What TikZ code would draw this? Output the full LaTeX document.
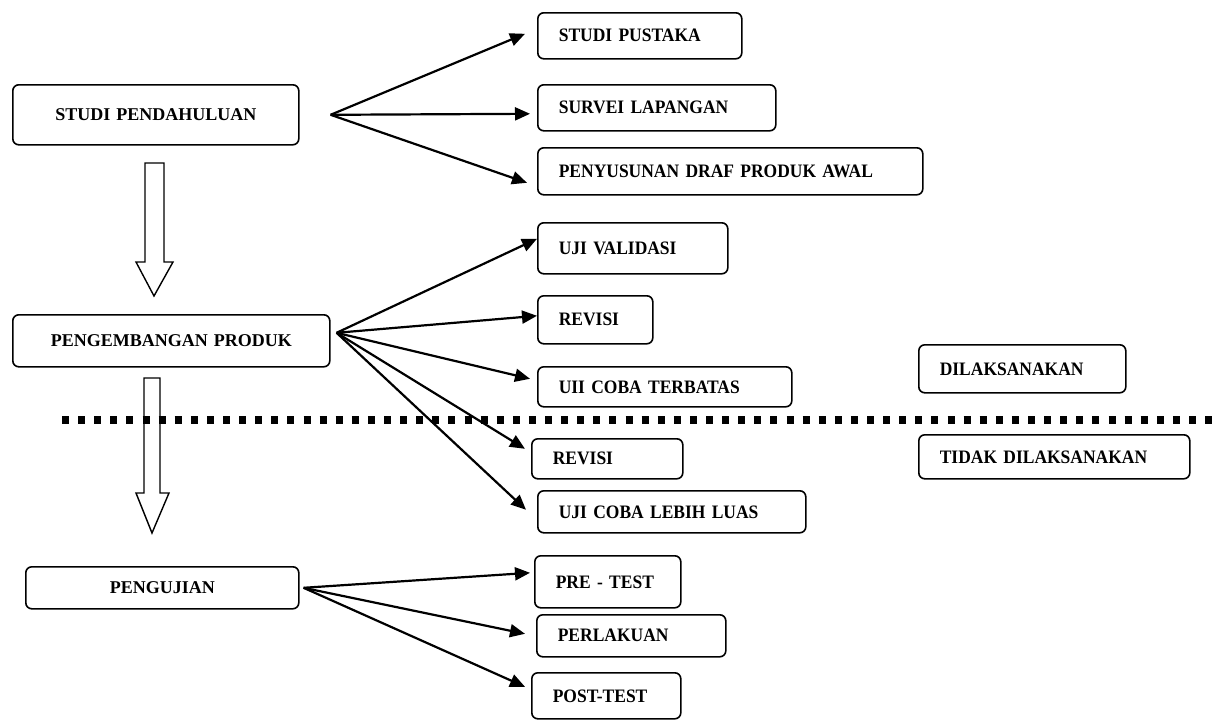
\documentclass[tikz,border=0pt]{standalone}
\usepackage{fontspec}
\setmainfont{Liberation Serif}
\newfontfamily\condserif[FakeStretch=0.92, WordSpace=0.7]{Liberation Serif}
\usetikzlibrary{arrows.meta}
\tikzset{
  lbox/.style={draw, line width=1.6pt, rounded corners=6pt, anchor=north west,
    inner xsep=0pt, inner ysep=0pt, align=center,
    font=\fontsize{18}{20}\selectfont\bfseries},
  rbox/.style={draw, line width=1.6pt, rounded corners=6pt, anchor=north west,
    inner xsep=21pt, inner ysep=0pt, align=left,
    font=\condserif\fontsize{19}{21}\selectfont\bfseries},
  arr/.style={line width=2.2pt, -{Triangle[length=15pt, width=13pt]}},
  hollow/.style={draw, line width=1.4pt, fill=white, line join=miter},
  sepline/.style={line width=7.3pt, dash pattern=on 7pt off 9.1pt}
}
\begin{document}
\begin{tikzpicture}[x=1pt, y=-1pt]
\useasboundingbox (0,0) rectangle (1216,720);

% left boxes
\node[lbox, minimum width=286pt, minimum height=60pt, text width=286pt] (sp) at (12,84) {STUDI PENDAHULUAN};
\node[lbox, minimum width=317pt, minimum height=52pt, text width=317pt] (pp) at (12,314) {PENGEMBANGAN PRODUK};
\node[lbox, minimum width=273pt, minimum height=42pt, text width=273pt] (pj) at (25,566) {PENGUJIAN};

% right boxes
\node[rbox, minimum height=46pt, text width=162pt] (r1) at (537,12) {STUDI PUSTAKA};
\node[rbox, minimum height=46pt, text width=196pt] (r2) at (537,84) {SURVEI LAPANGAN};
\node[rbox, minimum height=47pt, text width=343pt] (r3) at (537,147) {PENYUSUNAN DRAF PRODUK AWAL};
\node[rbox, minimum height=51pt, text width=148pt] (r4) at (537,222) {UJI VALIDASI};
\node[rbox, minimum height=48pt, text width=73pt] (r5) at (537,295) {REVISI};
\node[rbox, minimum height=40pt, text width=212pt] (r6) at (537,366) {UII COBA TERBATAS};
\node[rbox, minimum height=40pt, text width=109pt] (r7) at (531,438) {REVISI};
\node[rbox, minimum height=42pt, text width=226pt] (r8) at (537,490) {UJI COBA LEBIH LUAS};
\node[rbox, minimum height=52pt, text width=104pt] (r9) at (534,555) {PRE - TEST};
\node[rbox, minimum height=42pt, text width=147pt] (r10) at (536,614) {PERLAKUAN};
\node[rbox, minimum height=46pt, text width=107pt] (r11) at (531,672) {POST-TEST};

\node[rbox, minimum height=48pt, text width=165pt] (d1) at (918,344) {DILAKSANAKAN};
\node[rbox, minimum height=44pt, text width=229pt] (d2) at (918,434) {TIDAK DILAKSANAKAN};

% fan-out sources
\coordinate (s1) at ([xshift=31pt]sp.east);
\coordinate (s2) at ([xshift=6pt,yshift=8pt]pp.east);
\coordinate (s3) at ([xshift=4pt]pj.east);

% hollow arrows
\draw[hollow] (145,163) -- (164,163) -- (164,262) -- (173,262) -- (154,296) -- (136,262) -- (145,262) -- cycle;
\draw[hollow] (144,378) -- (160,378) -- (160,493) -- (169,493) -- (152,533) -- (136,493) -- (144,493) -- cycle;

% arrows from STUDI PENDAHULUAN
\draw[arr] (s1) -- ([xshift=-12pt,yshift=2pt]r1.west);
\draw[arr] (s1) -- ([xshift=-7pt,yshift=-6pt]r2.west);
\draw[arr] (s1) -- ([xshift=-10pt,yshift=-11.5pt]r3.west);

% arrows from PENGEMBANGAN PRODUK
\draw[arr] (s2) -- ([xshift=0pt,yshift=9.5pt]r4.west);
\draw[arr] (s2) -- ([xshift=0pt,yshift=4pt]r5.west);
\draw[arr] (s2) -- ([xshift=-7pt,yshift=8pt]r6.west);
\draw[arr] (s2) -- ([xshift=-6pt,yshift=10pt]r7.west);
\draw[arr] (s2) -- ([xshift=-11pt,yshift=2pt]r8.west);

% arrows from PENGUJIAN
\draw[arr] (s3) -- ([xshift=-4pt,yshift=9pt]r9.west);
\draw[arr] (s3) -- ([xshift=-11pt,yshift=2pt]r10.west);
\draw[arr] (s3) -- ([xshift=-6pt,yshift=9pt]r11.west);

% separator
\coordinate (sepL) at (62,420);
\coordinate (sepR) at (1212,420);
\draw[sepline] (sepL) -- (sepR);
\end{tikzpicture}
\end{document}
